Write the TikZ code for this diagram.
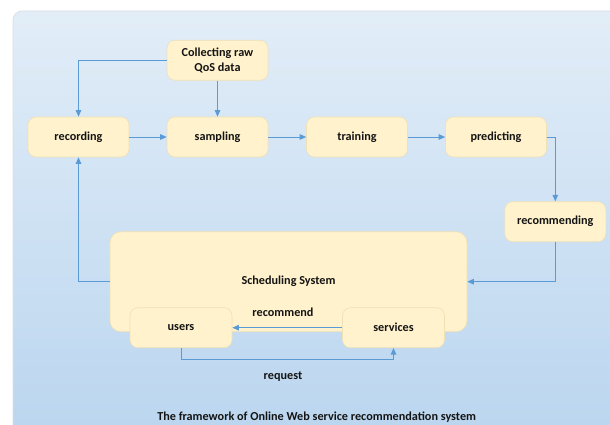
\documentclass[tikz,border=0pt]{standalone}
\usepackage{fontspec}
\setmainfont{Carlito}
\usetikzlibrary{arrows.meta}
\definecolor{boxfill}{HTML}{FFF2CC}
\definecolor{boxline}{HTML}{EFE0B6}
\definecolor{arrowc}{HTML}{5B9BD5}
\definecolor{txt}{HTML}{141414}
\definecolor{pTop}{HTML}{F6F9FC}
\definecolor{pMid}{HTML}{B6D3EE}
\definecolor{pBot}{HTML}{C8DDF1}
\definecolor{pEdge}{HTML}{D8DEE6}
\pgfdeclareverticalshading{panelshade}{100bp}{color(0bp)=(pBot); color(20bp)=(pMid); color(100bp)=(pTop)}
\tikzset{
  procbox/.style={draw=boxline, line width=0.6pt, fill=boxfill, rounded corners=8pt,
    minimum width=101pt, minimum height=40pt, inner sep=0pt, align=center,
    font=\fontsize{12.2}{14.5}\selectfont\bfseries, text=txt},
  lbl/.style={font=\fontsize{12.2}{14.5}\selectfont\bfseries, text=txt, inner sep=0pt},
  arr/.style={draw=arrowc, line width=0.9pt, -{Triangle[length=6.5pt,width=5.5pt]}}
}
\begin{document}
\begin{tikzpicture}[x=1pt,y=-1pt]
\useasboundingbox (0,0) rectangle (610,425);
% panel
\path[shading=panelshade, draw=pEdge, line width=0.7pt, rounded corners=9pt]
  (13,440) -- (13,11) -- (625,11) -- (625,440) -- cycle;
% nodes
\node[procbox] (collect) at (217.5,60.3) {Collecting raw\\QoS data};
\node[procbox] (recording) at (78.5,137) {recording};
\node[procbox] (sampling) at (217.5,137) {sampling};
\node[procbox] (training) at (357,137) {training};
\node[procbox] (predicting) at (496,137) {predicting};
\node[procbox] (recommending) at (555.3,221.7) {recommending};
\node[procbox, minimum width=357pt, minimum height=100pt, rounded corners=11pt] (sched) at (288.5,281.7) {Scheduling System};
\node[procbox, minimum width=102pt] (users) at (181,327.7) {users};
\node[procbox, minimum width=102pt] (services) at (393.5,327.7) {services};
% connectors
\draw[arr] (collect.west) -| (recording.north);
\draw[arr] (collect.south) -- (sampling.north);
\draw[arr] (recording.east) -- (sampling.west);
\draw[arr] (sampling.east) -- (training.west);
\draw[arr] (training.east) -- (predicting.west);
\draw[arr] (predicting.east) -| (recommending.north);
\draw[arr] (recommending.south) |- (sched.east);
\draw[arr] (sched.west) -| (recording.south);
\draw[arr] (services.west) -- (users.east);
\draw[arr] (users.south) -- ++(0,11.3) -| (services.south);
% labels
\node[lbl] (reclbl) at (283,312.7) {recommend};
\node[lbl] (reqlbl) at (283,376.7) {request};
\node[lbl] (caption) at (316.7,417) {The framework of Online Web service recommendation system};
\end{tikzpicture}
\end{document}
